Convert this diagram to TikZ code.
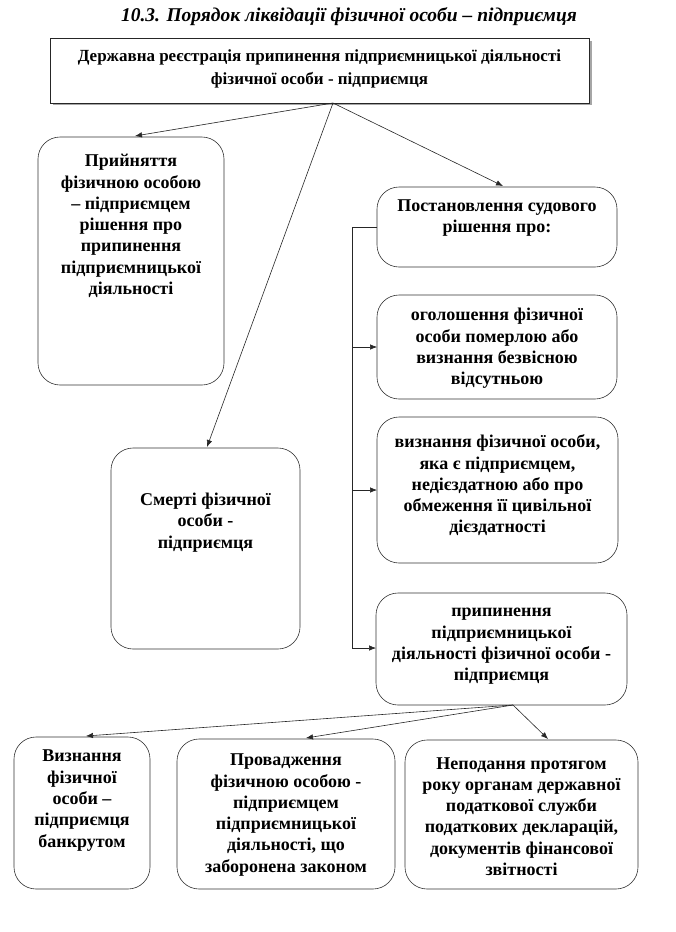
\documentclass[tikz,border=0pt]{standalone}
\usepackage{fontspec}
\setmainfont{Liberation Serif}
\usetikzlibrary{arrows.meta}
\tikzset{
  box/.style={draw=black!80, line width=0.6pt, rounded corners=22pt},
  txt/.style={align=center, font=\bfseries\fontsize{18}{21.3}\selectfont, inner sep=0pt},
  conn/.style={draw=black!85, line width=0.6pt, -{Latex[length=7pt,width=5.5pt]}},
  plain/.style={draw=black!85, line width=0.6pt}
}
\begin{document}
\begin{tikzpicture}[x=1pt,y=-1pt]
\useasboundingbox (0,0) rectangle (676,932);
\node[font=\bfseries\itshape\fontsize{19.5}{22}\selectfont, inner sep=0pt] (title) at (349,17) {10.3. Порядок ліквідації фізичної особи – підприємця};
% top box
\draw[black!35, line width=1.6pt] (53,104) -- (591,104) -- (591,41);
\draw[plain] (50,38) rectangle (589,103);
\node[align=center, font=\bfseries\fontsize{17}{23}\selectfont, inner sep=0pt] (top) at (319.5,69) {Державна реєстрація припинення підприємницької діяльності\\фізичної особи - підприємця};
\coordinate (topb) at (333,103);
% boxes
\draw[box] (38,137) rectangle (224,385);
\node[txt] (b1) at (131,226) {Прийняття\\фізичною особою\\– підприємцем\\рішення про\\припинення\\підприємницької\\діяльності};
\draw[box] (377,187) rectangle (617,267);
\node[txt] (b2) at (497,218) {Постановлення судового\\рішення про:};
\draw[box] (377,295) rectangle (617,399);
\node[txt] (b3) at (497,348.5) {оголошення фізичної\\особи померлою або\\визнання безвісною\\відсутньою};
\draw[box] (377,417) rectangle (618,563);
\node[txt] (b4) at (497.5,485.5) {визнання фізичної особи,\\яка є підприємцем,\\недієздатною або про\\обмеження її цивільної\\дієздатності};
\draw[box] (376,593) rectangle (627,705);
\node[txt] (b5) at (501.5,646.5) {припинення\\підприємницької\\діяльності фізичної особи -\\підприємця};
\draw[box] (111,448) rectangle (300,649);
\node[txt] (b6) at (205.5,522.5) {Смерті фізичної\\особи -\\підприємця};
\draw[box] (14,737) rectangle (150,889);
\node[txt] (c1) at (82,800.5) {Визнання\\фізичної\\особи –\\підприємця\\банкрутом};
\draw[box] (177,739) rectangle (395,889);
\node[txt] (c2) at (286,815) {Провадження\\фізичною особою -\\підприємцем\\підприємницької\\діяльності, що\\заборонена законом};
\draw[box] (405,740) rectangle (638,889);
\node[txt] (c3) at (521.5,816.5) {Неподання протягом\\року органам державної\\податкової служби\\податкових декларацій,\\документів фінансової\\звітності};
% coordinates for connections
\coordinate (b1t) at (135,136);
\coordinate (b6t) at (207,447);
\coordinate (b2t) at (503,186);
\coordinate (b2l) at (377,227);
\coordinate (v1) at (352,227);
\coordinate (b3l) at (377,347);
\coordinate (b4l) at (377,490);
\coordinate (b5l) at (376,648);
\coordinate (b5b) at (513,705);
\coordinate (c1t) at (86,736);
\coordinate (c2t) at (306,738);
\coordinate (c3t) at (548,739);
\draw[conn] (topb) -- (b1t);
\draw[conn] (topb) -- (b6t);
\draw[conn] (topb) -- (b2t);
\draw[plain] (b2l) -- (v1) -- (v1 |- b5l);
\draw[conn] (v1 |- b3l) -- (b3l);
\draw[conn] (v1 |- b4l) -- (b4l);
\draw[conn] (v1 |- b5l) -- (b5l);
\draw[conn] (b5b) -- (c1t);
\draw[conn] (b5b) -- (c2t);
\draw[conn] (b5b) -- (c3t);
\end{tikzpicture}
\end{document}
